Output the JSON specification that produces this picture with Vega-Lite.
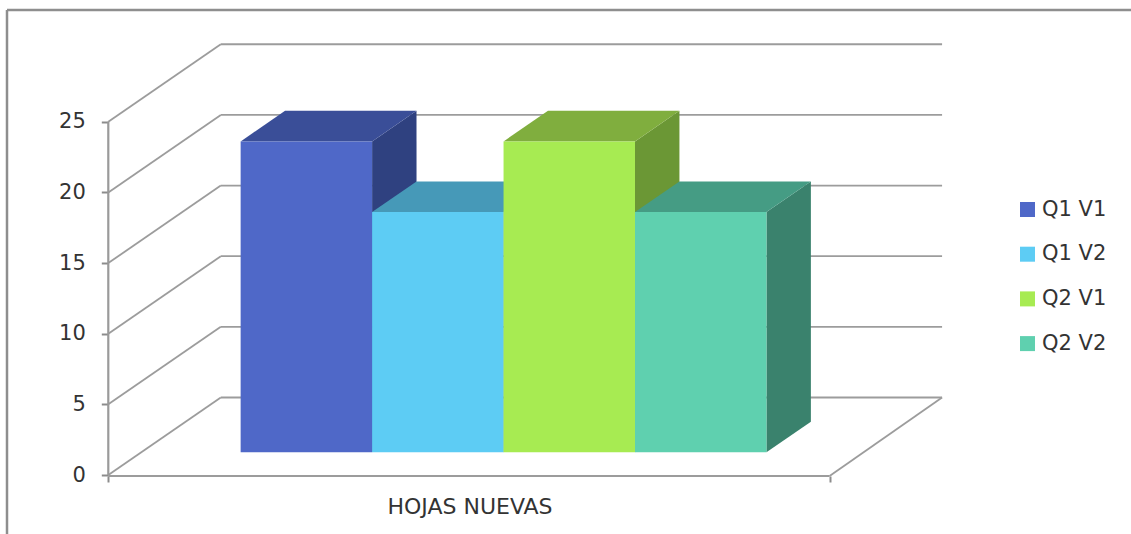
{
  "$schema": "https://vega.github.io/schema/vega-lite/v6.json",
  "width": 1124,
  "height": 524,
  "autosize": "none",
  "padding": {"left": 7, "top": 10, "right": 0, "bottom": 0},
  "background": "white",
  "config": {"view": {"stroke": null}, "font": "DejaVu Sans"},
  "datasets": {
    "bars": [
      {"series": "Q1 V1", "value": 22},
      {"series": "Q1 V2", "value": 17},
      {"series": "Q2 V1", "value": 22},
      {"series": "Q2 V2", "value": 17}
    ],
    "ticks": [{"tick": 0}, {"tick": 5}, {"tick": 10}, {"tick": 15}, {"tick": 20}, {"tick": 25}],
    "single": [{"part": "chart frame and floor"}]
  },
  "layer": [
    {
      "data": {"name": "single"},
      "mark": {"type": "rule", "color": "#8e8e8e", "strokeWidth": 2.5},
      "encoding": {"y": {"datum": 32.909, "type": "quantitative", "scale": {"domain": [-4.175, 32.909], "nice": false, "zero": false}}}
    },
    {
      "data": {"name": "single"},
      "mark": {"type": "rule", "color": "#8e8e8e", "strokeWidth": 2.5},
      "encoding": {"x": {"datum": -0.7706, "type": "quantitative", "scale": {"domain": [-0.7706, 7.78], "nice": false, "zero": false}}}
    },
    {
      "data": {"name": "ticks"},
      "transform": [
        {"calculate": "0.8558", "as": "backLeft"},
        {"calculate": "6.3428", "as": "backRight"},
        {"calculate": "datum.tick + 5.485", "as": "backLevel"}
      ],
      "mark": {"type": "rule", "color": "#9c9c9c", "strokeWidth": 1.8},
      "encoding": {
        "x": {"field": "backLeft", "type": "quantitative", "scale": {"domain": [-0.7706, 7.78], "nice": false, "zero": false}},
        "x2": {"field": "backRight"},
        "y": {"field": "backLevel", "type": "quantitative", "scale": {"domain": [-4.175, 32.909], "nice": false, "zero": false}}
      }
    },
    {
      "data": {"name": "ticks"},
      "transform": [
        {"calculate": "0", "as": "wallFront"},
        {"calculate": "0.8558", "as": "wallBack"},
        {"calculate": "datum.tick + 5.485", "as": "backLevel"}
      ],
      "mark": {"type": "rule", "color": "#9c9c9c", "strokeWidth": 1.8},
      "encoding": {
        "x": {"field": "wallFront", "type": "quantitative", "scale": {"domain": [-0.7706, 7.78], "nice": false, "zero": false}},
        "x2": {"field": "wallBack"},
        "y": {"field": "tick", "type": "quantitative", "scale": {"domain": [-4.175, 32.909], "nice": false, "zero": false}},
        "y2": {"field": "backLevel"}
      }
    },
    {
      "data": {"name": "single"},
      "mark": {"type": "rule", "color": "#9c9c9c", "strokeWidth": 1.8},
      "encoding": {
        "x": {"datum": 5.487, "type": "quantitative", "scale": {"domain": [-0.7706, 7.78], "nice": false, "zero": false}},
        "x2": {"datum": 6.3428},
        "y": {"datum": -0.07, "type": "quantitative", "scale": {"domain": [-4.175, 32.909], "nice": false, "zero": false}},
        "y2": {"datum": 5.485}
      }
    },
    {
      "data": {"name": "single"},
      "mark": {"type": "rule", "color": "#9c9c9c", "strokeWidth": 2},
      "encoding": {
        "x": {"datum": 0, "type": "quantitative", "scale": {"domain": [-0.7706, 7.78], "nice": false, "zero": false}},
        "x2": {"datum": 5.487},
        "y": {"datum": -0.07, "type": "quantitative", "scale": {"domain": [-4.175, 32.909], "nice": false, "zero": false}}
      }
    },
    {
      "data": {"name": "single"},
      "mark": {"type": "rule", "color": "#9a9a9a", "strokeWidth": 2.2},
      "encoding": {
        "x": {"datum": 0, "type": "quantitative", "scale": {"domain": [-0.7706, 7.78], "nice": false, "zero": false}},
        "y": {"datum": 0, "type": "quantitative", "scale": {"domain": [-4.175, 32.909], "nice": false, "zero": false}},
        "y2": {"datum": 25}
      }
    },
    {
      "data": {"name": "bars"},
      "transform": [
        {"window": [{"op": "row_number", "as": "order"}]},
        {"calculate": "[0, 1]", "as": "ends"},
        {"flatten": ["ends"], "as": ["end"]},
        {"calculate": "datum.order - 1 + 1.0068 + 1 + datum.end * 0.338", "as": "sideX"},
        {"calculate": "5.485 * (0.293 + datum.end * 0.395)", "as": "sideBase"},
        {"calculate": "datum.value + datum.sideBase", "as": "sideTop"}
      ],
      "mark": {"type": "area"},
      "encoding": {
        "x": {"field": "sideX", "type": "quantitative", "scale": {"domain": [-0.7706, 7.78], "nice": false, "zero": false}},
        "y": {"field": "sideTop", "type": "quantitative", "stack": null, "scale": {"domain": [-4.175, 32.909], "nice": false, "zero": false}},
        "y2": {"field": "sideBase"},
        "color": {"field": "series", "type": "nominal", "legend": null, "scale": {"domain": ["Q1 V1", "Q1 V2", "Q2 V1", "Q2 V2"], "range": ["#2F4180", "#3C8299", "#6B9735", "#3A826D"]}},
        "detail": {"field": "series"}
      }
    },
    {
      "data": {"name": "bars"},
      "transform": [
        {"window": [{"op": "row_number", "as": "order"}]},
        {"calculate": "[0, 1, 2, 3]", "as": "corners"},
        {"flatten": ["corners"], "as": ["corner"]},
        {"calculate": "datum.order - 1 + 1.0068 + [0, 0.338, 1, 1.338][datum.corner]", "as": "topX"},
        {"calculate": "datum.value + 5.485 * 0.293", "as": "frontEdge"},
        {"calculate": "datum.value + 5.485 * 0.688", "as": "backEdge"},
        {"calculate": "datum.corner == 0 ? datum.frontEdge : datum.backEdge", "as": "upper"},
        {"calculate": "datum.corner == 3 ? datum.backEdge : datum.frontEdge", "as": "lower"}
      ],
      "mark": {"type": "area"},
      "encoding": {
        "x": {"field": "topX", "type": "quantitative", "scale": {"domain": [-0.7706, 7.78], "nice": false, "zero": false}},
        "y": {"field": "upper", "type": "quantitative", "stack": null, "scale": {"domain": [-4.175, 32.909], "nice": false, "zero": false}},
        "y2": {"field": "lower"},
        "color": {"field": "series", "type": "nominal", "legend": null, "scale": {"domain": ["Q1 V1", "Q1 V2", "Q2 V1", "Q2 V2"], "range": ["#3A4E98", "#4699B8", "#80AE3E", "#459C84"]}},
        "detail": {"field": "series"}
      }
    },
    {
      "data": {"name": "bars"},
      "transform": [
        {"window": [{"op": "row_number", "as": "order"}]},
        {"calculate": "datum.order - 1 + 1.0068", "as": "left"},
        {"calculate": "datum.left + 1", "as": "right"},
        {"calculate": "5.485 * 0.293", "as": "base"},
        {"calculate": "datum.value + datum.base", "as": "top"}
      ],
      "mark": {"type": "rect"},
      "encoding": {
        "x": {
          "field": "left", "type": "quantitative",
          "scale": {"domain": [-0.7706, 7.78], "nice": false, "zero": false},
          "axis": {
            "orient": "bottom", "offset": -58, "values": [0, 5.487], "labels": false, "domain": false, "grid": false,
            "tickSize": 6, "tickWidth": 2, "tickColor": "#8c8c8c",
            "title": "HOJAS NUEVAS", "titleFont": "DejaVu Sans", "titleFontSize": 22, "titleFontWeight": "normal", "titleColor": "#333333",
            "titleX": 462.5, "titleY": 37, "titleBaseline": "alphabetic", "titleAlign": "center"
          }
        },
        "x2": {"field": "right"},
        "y": {
          "field": "top", "type": "quantitative",
          "scale": {"domain": [-4.175, 32.909], "nice": false, "zero": false},
          "axis": {
            "orient": "left", "offset": -101.3, "values": [0, 5, 10, 15, 20, 25], "domain": false, "grid": false,
            "tickSize": 7, "tickWidth": 2, "tickColor": "#8c8c8c", "labelPadding": 16,
            "labelFont": "DejaVu Sans", "labelFontSize": 21, "labelColor": "#333333", "title": null
          }
        },
        "y2": {"field": "base"},
        "color": {
          "field": "series", "type": "nominal",
          "scale": {"domain": ["Q1 V1", "Q1 V2", "Q2 V1", "Q2 V2"], "range": ["#4F68C8", "#5DCCF4", "#A7EB52", "#5FD0AF"]},
          "legend": {
            "title": null, "orient": "none", "legendX": 1010, "legendY": 189, "padding": 0,
            "symbolType": "square", "symbolSize": 225, "symbolStrokeWidth": 0, "labelOffset": 4,
            "labelFont": "DejaVu Sans", "labelFontSize": 21, "labelColor": "#333333", "rowPadding": 22.7
          }
        }
      }
    }
  ],
  "resolve": {"scale": {"color": "independent"}}
}
